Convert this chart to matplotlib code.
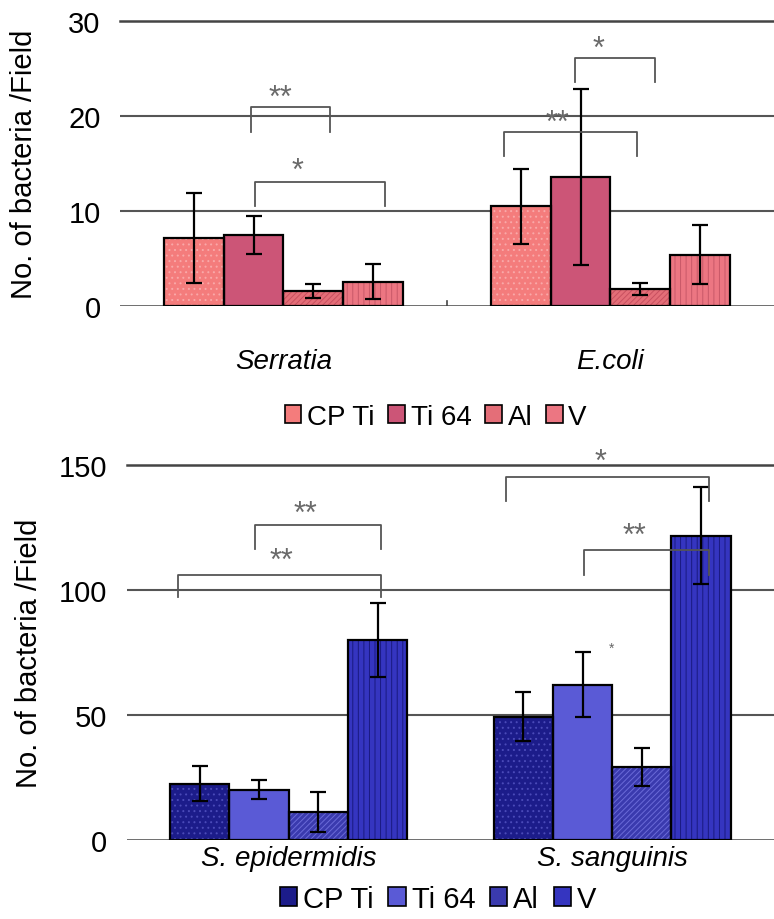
import matplotlib
matplotlib.use("Agg")
import matplotlib.pyplot as plt
from matplotlib.patches import Patch
import numpy as np

plt.rcParams["font.family"] = ["Liberation Sans", "DejaVu Sans"]
plt.rcParams["hatch.linewidth"] = 0.7

SERIES = ["CP Ti", "Ti 64", "Al", "V"]

# top panel: gram-negative
TOP_CATS = ["Serratia", "E.coli"]
TOP_MEAN = {"CP Ti": [7.2, 10.5], "Ti 64": [7.5, 13.6], "Al": [1.6, 1.8], "V": [2.6, 5.4]}
TOP_ERR = {"CP Ti": [4.7, 3.9], "Ti 64": [2.0, 9.3], "Al": [0.7, 0.6], "V": [1.8, 3.1]}

# bottom panel: gram-positive
BOT_CATS = ["S. epidermidis", "S. sanguinis"]
BOT_MEAN = {"CP Ti": [22.5, 49.2], "Ti 64": [20.0, 62.0], "Al": [11.0, 29.0], "V": [80.0, 121.6]}
BOT_ERR = {"CP Ti": [7.0, 9.8], "Ti 64": [3.8, 13.0], "Al": [8.0, 7.6], "V": [14.8, 19.4]}

# brackets: (group, bar index start, bar index end, top y, leg y, label, label bar idx, label y)
TOP_SIG = [
    (0, 0.95, 2.28, 21.0, 18.3, "**", 1.45, 20.3),
    (0, 1.02, 3.20, 13.1, 10.5, "*", 1.73, 12.7),
    (1, 0.90, 2.25, 26.1, 23.6, "*", 1.30, 25.5),
    (1, -0.28, 1.95, 18.3, 15.8, "**", 0.61, 17.7),
]
BOT_SIG = [
    (1, -0.29, 3.13, 145.0, 135.6, "*", 1.30, 145.0),
    (0, 0.93, 3.06, 125.8, 116.4, "**", 1.78, 124.5),
    (0, -0.37, 3.06, 106.0, 97.0, "**", 1.37, 105.5),
    (1, 1.02, 3.13, 116.0, 106.0, "**", 1.87, 115.5),
]

TOP_COLORS = {"CP Ti": ("#f47c7c", "#f9a8a8", "..."),
              "Ti 64": ("#cc5577", None, None),
              "Al": ("#e46e78", "#c85060", "//////"),
              "V": ("#ec7682", "#c85868", "|||")}
BOT_COLORS = {"CP Ti": ("#1c1c8a", "#4a4ab8", "..."),
              "Ti 64": ("#5a5ad6", None, None),
              "Al": ("#3a3aae", "#6a6ad8", "//////"),
              "V": ("#3535c0", "#1a1a80", "|||")}

W = 0.183


def bar_x(group, idx):
    return group + (idx - 1.5) * W


def draw_panel(ax, cats, mean, err, colors, ymax, step, sig):
    x = np.arange(len(cats))
    for i, s in enumerate(SERIES):
        fc, hc, hatch = colors[s]
        xs = x + (i - 1.5) * W
        if hatch:
            ax.bar(xs, mean[s], W, color=fc, edgecolor=hc, hatch=hatch, lw=0, zorder=3)
        else:
            ax.bar(xs, mean[s], W, color=fc, lw=0, zorder=3)
        ax.bar(xs, mean[s], W, facecolor="none", edgecolor="black", lw=1.6, zorder=4)
        ax.errorbar(xs, mean[s], yerr=err[s], fmt="none", ecolor="black",
                    elinewidth=1.6, capsize=6, capthick=1.6, zorder=5)
    for g, a, b, ytop, yleg, lab, lx, ly in sig:
        xa, xb = bar_x(g, a), bar_x(g, b)
        ax.plot([xa, xa, xb, xb], [yleg, ytop, ytop, yleg], color="#555555",
                lw=1.3, zorder=6)
        ax.text(bar_x(g, lx), ly, lab, ha="center", va="bottom", fontsize=22,
                color="#6a6a6a", zorder=7)
    ax.set_xlim(-0.5, 1.5)
    ax.set_ylim(0, ymax)
    ax.set_yticks(np.arange(0, ymax + 1, step))
    for v in np.arange(step, ymax, step):
        ax.axhline(v, color="#555555", lw=1.5, zorder=1)
    ax.axhline(ymax, color="#444444", lw=1.8, zorder=1, clip_on=False)
    ax.axhline(0, color="#444444", lw=1.8, zorder=2)
    for sp in ax.spines.values():
        sp.set_visible(False)
    ax.tick_params(axis="y", length=0, labelsize=21, pad=14)
    ax.tick_params(axis="x", length=0)
    ax.set_xticks(x)
    ax.set_xticklabels(cats, fontsize=20, style="italic")
    ax.set_ylabel("No. of bacteria /Field", fontsize=21)


fig = plt.figure(figsize=(7.74, 9.2), dpi=100)

ax1 = fig.add_axes([0.155, 0.666, 0.845, 0.310])
draw_panel(ax1, TOP_CATS, TOP_MEAN, TOP_ERR, TOP_COLORS, 30, 10, TOP_SIG)
ax1.tick_params(axis="x", pad=30)
ax1.plot([0.5, 0.5], [0, 0.6], color="#444444", lw=1.2, zorder=2)
ax1.yaxis.set_label_coords(-0.125, 0.5)

ax2 = fig.add_axes([0.164, 0.086, 0.836, 0.4076])
draw_panel(ax2, BOT_CATS, BOT_MEAN, BOT_ERR, BOT_COLORS, 150, 50, BOT_SIG)
ax2.tick_params(axis="x", pad=4)
ax2.text(bar_x(1, 1.49), 76.8, "*", fontsize=10, color="#666666", ha="center", va="center")
ax2.yaxis.set_label_coords(-0.13, 0.5)


def legend_handles(colors):
    hs = []
    for s in SERIES:
        fc = colors[s][0]
        hs.append(Patch(facecolor=fc, edgecolor="black", lw=1.2, label=s))
    return hs


fig.legend(handles=legend_handles(TOP_COLORS), loc="center", ncol=4,
           bbox_to_anchor=(0.563, 0.546), frameon=False, fontsize=20,
           handlelength=0.6, handleheight=0.6, handletextpad=0.2,
           columnspacing=0.5)
fig.legend(handles=legend_handles(BOT_COLORS), loc="center", ncol=4,
           bbox_to_anchor=(0.566, 0.022), frameon=False, fontsize=21,
           handlelength=0.6, handleheight=0.6, handletextpad=0.2,
           columnspacing=0.5)

fig.savefig("out.png", dpi=100)
